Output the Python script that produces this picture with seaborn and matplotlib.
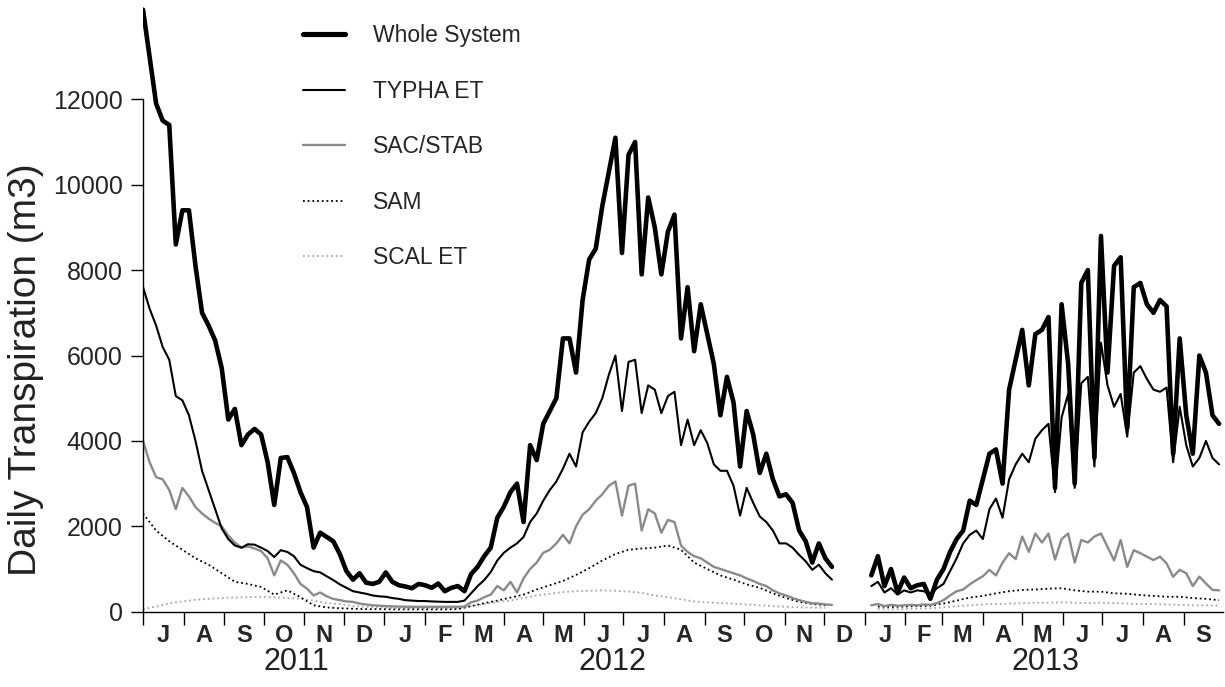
import numpy as np
import pandas as pd
import matplotlib
matplotlib.use("Agg")
import matplotlib.pyplot as plt
import matplotlib.dates as mdates
import matplotlib.ticker as mticker
from matplotlib.lines import Line2D
import seaborn as sns

nan = np.nan
start_date = "2011-07-01"

# ---- data ----
# 5-day sampling
whole_system = [
    14100, 13000, 11900, 11500, 11400, 8600, 9400, 9400, 8100, 7000,
    6700, 6350, 5700, 4500, 4750, 3900, 4150, 4280, 4150, 3500,
    2500, 3600, 3620, 3250, 2800, 2450, 1500, 1850, 1750, 1650,
    1350, 950, 750, 900, 680, 650, 700, 920, 700, 620,
    590, 550, 650, 620, 560, 660, 480, 560, 600, 480,
    880, 1050, 1300, 1500, 2200, 2460, 2800, 3000, 2100, 3900,
    3550, 4400, 4700, 5000, 6400, 6400, 5600, 7300, 8250, 8500,
    9500, 10300, 11100, 8400, 10700, 11000, 7900, 9700, 9000, 7900,
    8900, 9300, 6400, 7600, 6100, 7200, 6500, 5800, 4600, 5500,
    4900, 3400, 4700, 4150, 3250, 3700, 3100, 2700, 2750, 2550,
    1900, 1650, 1150, 1600, 1250, 1050, nan, nan, nan, nan,
    nan, 850, 1300, 600, 1000, 450, 800, 550, 620, 650,
    300, 750, 1000, 1400, 1700, 1900, 2600, 2500, 3100, 3700,
    3800, 3000, 5200, 5900, 6600, 5300, 6500, 6600, 6900, 2900,
    7200, 5800, 3000, 7700, 8000, 3600, 8800, 5600, 8100, 8300,
    4300, 7600, 7700, 7200, 7000, 7300, 7150, 3700, 6400, 4600,
    3700, 6000, 5600, 4600, 4400,
]
typha_et = [
    7600, 7100, 6700, 6200, 5900, 5050, 4950, 4600, 4000, 3300,
    2850, 2400, 1950, 1700, 1550, 1500, 1580, 1570, 1500, 1420,
    1280, 1440, 1400, 1300, 1100, 1020, 950, 920, 830, 740,
    640, 560, 480, 450, 420, 380, 360, 350, 320, 300,
    270, 260, 250, 250, 240, 235, 230, 230, 230, 260,
    430, 600, 740, 930, 1200, 1380, 1500, 1600, 1750, 2100,
    2300, 2600, 2850, 3050, 3350, 3700, 3400, 4200, 4450, 4650,
    5000, 5550, 6000, 4700, 5850, 5900, 4650, 5300, 5200, 4650,
    5050, 5150, 3900, 4500, 3900, 4250, 3950, 3450, 3300, 3300,
    2950, 2250, 2900, 2550, 2230, 2100, 1900, 1600, 1600, 1500,
    1330, 1180, 980, 1100, 900, 750, nan, nan, nan, nan,
    nan, 600, 700, 450, 550, 400, 500, 450, 500, 480,
    400, 550, 650, 950, 1250, 1600, 1800, 1900, 1700, 2400,
    2650, 2200, 3100, 3450, 3700, 3500, 4050, 4250, 4400, 2800,
    4550, 5100, 2900, 5350, 5500, 3400, 6300, 5300, 4800, 5100,
    4100, 5600, 5750, 5450, 5200, 5150, 5250, 3500, 4800, 3900,
    3400, 3600, 4000, 3600, 3450,
]
sac_stab = [
    4000, 3500, 3150, 3100, 2850, 2400, 2900, 2700, 2450, 2300,
    2180, 2080, 2000, 1780, 1620, 1500, 1530, 1480, 1420, 1250,
    850, 1200, 1100, 900, 650, 540, 380, 450, 360, 300,
    270, 240, 230, 190, 170, 150, 140, 130, 125, 120,
    117, 115, 115, 115, 115, 115, 115, 115, 115, 120,
    220, 260, 340, 400, 600, 500, 700, 450, 780, 1000,
    1150, 1380, 1450, 1600, 1800, 1600, 2000, 2270, 2400, 2600,
    2750, 2950, 3050, 2250, 2950, 3000, 1900, 2400, 2300, 1850,
    2150, 2100, 1550, 1400, 1300, 1250, 1150, 1050, 1000, 950,
    900, 850, 780, 720, 650, 600, 500, 430, 380, 320,
    270, 230, 200, 190, 170, 160, nan, nan, nan, nan,
    nan, 150, 180, 130, 160, 140, 150, 160, 150, 170,
    160, 200, 270, 380, 480, 520, 640, 740, 830, 980,
    850, 1150, 1370, 1230, 1760, 1400, 1830, 1620, 1830, 1220,
    1700, 1830, 1150, 1680, 1620, 1760, 1830, 1520, 1200, 1680,
    1050, 1440, 1370, 1290, 1210, 1290, 1130, 820, 980, 900,
    600, 820, 660, 510, 500,
]
# 10-day sampling
sam = [
    2300, 1900, 1650, 1450, 1250, 1100, 900, 700, 650, 580,
    400, 500, 340, 150, 100, 80, 70, 60, 60, 55,
    55, 55, 55, 55, 60, 130, 200, 260, 330, 400,
    520, 620, 720, 860, 1020, 1200, 1350, 1450, 1480, 1500,
    1550, 1450, 1150, 1000, 850, 750, 640, 560, 430, 320,
    230, 180, 150, nan, nan, nan, 120, 110, 120, 130,
    140, 190, 260, 330, 370, 430, 480, 510, 520, 540,
    550, 500, 470, 470, 430, 420, 390, 370, 350, 350,
    320, 300, 270,
]
scal_et = [
    60, 120, 200, 240, 280, 300, 320, 330, 340, 350,
    340, 320, 300, 260, 200, 180, 130, 115, 100, 90,
    85, 80, 80, 80, 80, 130, 180, 230, 260, 320,
    380, 420, 460, 480, 490, 500, 490, 470, 440, 380,
    340, 290, 240, 220, 200, 190, 170, 150, 130, 115,
    100, 95, 90, nan, nan, nan, 60, 60, 60, 70,
    80, 100, 130, 150, 170, 180, 190, 200, 210, 210,
    220, 210, 200, 210, 200, 190, 180, 180, 170, 160,
    150, 150, 140,
]

series_names = ["Whole System", "TYPHA ET", "SAC/STAB", "SAM", "SCAL ET"]
month_labels = list("JASOND") + list("JFMAMJJASOND") + list("JFMAMJJAS")
year_labels = ["2011", "2012", "2013"]
y_ticks = [0, 2000, 4000, 6000, 8000, 10000, 12000]


def make_frame(values, step, name):
    d = pd.DataFrame({
        "date": pd.date_range(start_date, periods=len(values), freq=step),
        "value": values,
    })
    d["segment"] = d["value"].isna().cumsum()
    d = d.dropna().copy()
    d["series"] = name
    return d


frames = {
    "Whole System": make_frame(whole_system, "5D", "Whole System"),
    "TYPHA ET": make_frame(typha_et, "5D", "TYPHA ET"),
    "SAC/STAB": make_frame(sac_stab, "5D", "SAC/STAB"),
    "SAM": make_frame(sam, "10D", "SAM"),
    "SCAL ET": make_frame(scal_et, "10D", "SCAL ET"),
}

styles = {
    "Whole System": dict(color="black", lw=3.3, ls="-"),
    "TYPHA ET": dict(color="black", lw=1.5, ls="-"),
    "SAC/STAB": dict(color="#8a8a8a", lw=1.7, ls="-"),
    "SAM": dict(color="black", lw=1.3, ls=(0, (1, 1.6))),
    "SCAL ET": dict(color="#a8a8a8", lw=1.3, ls=(0, (1, 1.6))),
}

sns.set_style("ticks")
plt.rcParams["font.family"] = ["Liberation Sans", "DejaVu Sans"]

W, H = 1225, 687
fig = plt.figure(figsize=(W / 100, H / 100), dpi=100)
ax_l, ax_r, ax_b, ax_t = 143, 1223, 611.7, 5
ax = fig.add_axes([ax_l / W, (H - ax_b) / H, (ax_r - ax_l) / W, (ax_b - ax_t) / H])

for name in ["SCAL ET", "SAM", "SAC/STAB", "TYPHA ET", "Whole System"]:
    st = styles[name]
    sns.lineplot(data=frames[name], x="date", y="value", units="segment",
                 estimator=None, color=st["color"], linewidth=st["lw"],
                 linestyle=st["ls"], ax=ax, legend=False)

ax.set_xlim(pd.Timestamp("2011-07-01"), pd.Timestamp("2013-10-01"))
ax.set_ylim(0, (ax_b - ax_t) / 0.0427)

# y axis
ax.set_yticks(y_ticks)
ax.yaxis.set_major_formatter(mticker.FuncFormatter(lambda v, p: f"{int(v)}"))
ax.spines["left"].set_bounds(0, 12000)
ax.spines["top"].set_visible(False)
ax.spines["right"].set_visible(False)
for s in ["left", "bottom"]:
    ax.spines[s].set_linewidth(1.0)
    ax.spines[s].set_color("black")
ax.tick_params(axis="y", which="major", length=9, width=1.0, pad=5.5,
               labelsize=18, color="black")
ax.set_ylabel("Daily Transpiration (m3)", fontsize=28, color="#222222")
ax.yaxis.set_label_coords((44 - ax_l) / (ax_r - ax_l), (ax_b - 370) / (ax_b - ax_t))

# x axis: month boundaries as major ticks, month initials at month centres
month_starts = pd.date_range("2011-07-01", "2013-10-01", freq="MS")
mids = [a + (b - a) / 2 for a, b in zip(month_starts[:-1], month_starts[1:])]
ax.xaxis.set_major_locator(mticker.FixedLocator(mdates.date2num(month_starts[:-1])))
ax.xaxis.set_major_formatter(mticker.NullFormatter())
ax.xaxis.set_minor_locator(mticker.FixedLocator(mdates.date2num(mids)))
ax.xaxis.set_minor_formatter(mticker.FixedFormatter(month_labels))
ax.tick_params(axis="x", which="major", length=9, width=1.0, color="black")
ax.tick_params(axis="x", which="minor", length=0, pad=9, labelsize=17)
for lab in ax.xaxis.get_minorticklabels():
    lab.set_fontweight("bold")
ax.set_xlabel("")

year_pos = [pd.Timestamp("2011-10-26"), pd.Timestamp("2012-06-23"), pd.Timestamp("2013-05-19")]
for yl, xp in zip(year_labels, year_pos):
    ax.text(mdates.date2num(xp), (ax_b - 662) / (ax_b - ax_t), yl,
            transform=ax.get_xaxis_transform(), ha="center", va="center",
            fontsize=22, color="#222222")

handles = [Line2D([], [], color=styles[n]["color"], lw=styles[n]["lw"] + (0.4 if n == "Whole System" else 0),
                  ls=styles[n]["ls"]) for n in series_names]
leg = ax.legend(handles, series_names, loc="upper left",
                bbox_to_anchor=(303 / W, (H - 24) / H), bbox_transform=fig.transFigure,
                frameon=False, fontsize=16.5, handlelength=1.85, handletextpad=1.2,
                labelspacing=1.42, borderpad=0, borderaxespad=0)

fig.savefig("out.png", dpi=100)
